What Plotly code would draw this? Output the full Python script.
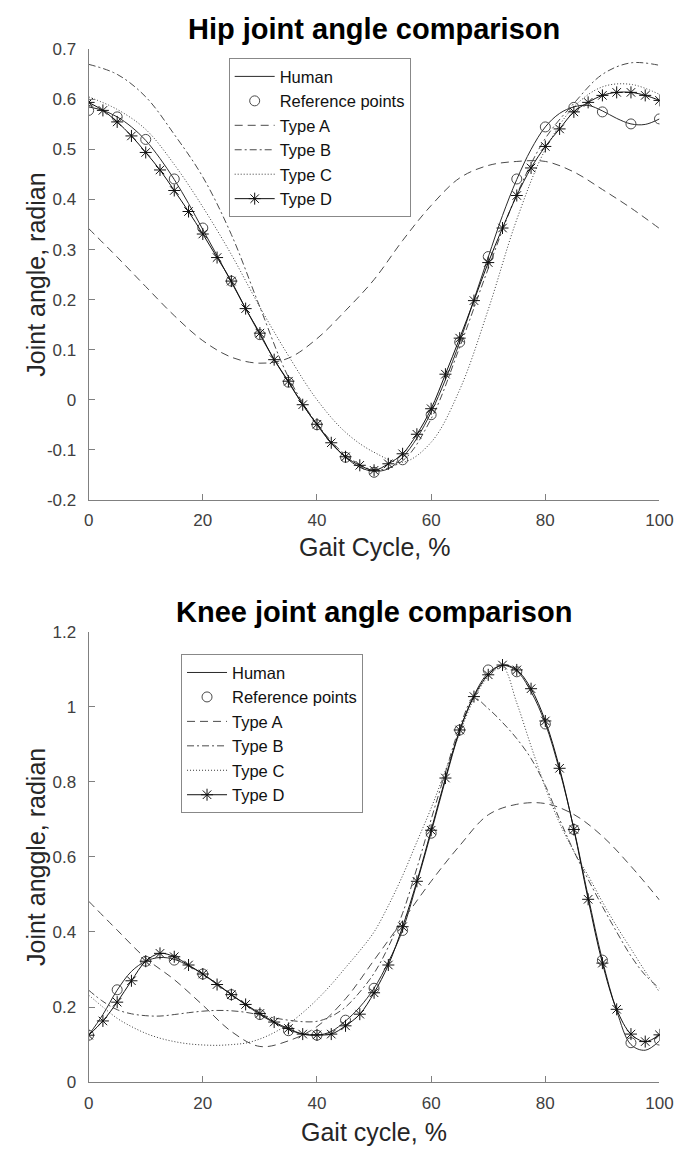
import plotly.graph_objects as go

# ---------------- data ----------------
x_fine = [0, 2.5, 5, 7.5, 10, 12.5, 15, 17.5, 20, 22.5, 25, 27.5, 30, 32.5, 35, 37.5,
          40, 42.5, 45, 47.5, 50, 52.5, 55, 57.5, 60, 62.5, 65, 67.5, 70, 72.5, 75,
          77.5, 80, 82.5, 85, 87.5, 90, 92.5, 95, 97.5, 100]
x_ref = [0, 5, 10, 15, 20, 25, 30, 35, 40, 45, 50, 55, 60, 65, 70, 75, 80, 85, 90, 95, 100]

# Hip
hip_human = [0.585, 0.578, 0.565, 0.545, 0.518, 0.482, 0.440, 0.392, 0.340, 0.288, 0.235,
             0.182, 0.130, 0.080, 0.035, -0.010, -0.050, -0.087, -0.115, -0.135, -0.143,
             -0.138, -0.115, -0.077, -0.025, 0.040, 0.115, 0.200, 0.285, 0.368, 0.440,
             0.500, 0.545, 0.572, 0.585, 0.588, 0.577, 0.562, 0.551, 0.550, 0.561]
hip_ref = [0.578, 0.565, 0.520, 0.441, 0.343, 0.237, 0.130, 0.035, -0.050, -0.115, -0.145,
           -0.120, -0.030, 0.115, 0.286, 0.441, 0.545, 0.584, 0.575, 0.551, 0.561]
hip_A = [0.342, 0.285, 0.226, 0.168, 0.118, 0.085, 0.073, 0.083, 0.122, 0.178, 0.240,
         0.318, 0.388, 0.443, 0.468, 0.476, 0.476, 0.455, 0.420, 0.383, 0.342]
hip_B = [0.670, 0.650, 0.605, 0.530, 0.445, 0.330, 0.185, 0.045, -0.048, -0.110, -0.140,
         -0.122, -0.038, 0.105, 0.262, 0.410, 0.522, 0.592, 0.650, 0.673, 0.668]
hip_C = [0.605, 0.580, 0.540, 0.470, 0.385, 0.290, 0.185, 0.088, 0.000, -0.065, -0.105,
         -0.125, -0.085, 0.020, 0.180, 0.360, 0.500, 0.585, 0.625, 0.630, 0.610]
hip_D = [0.594, 0.578, 0.555, 0.527, 0.494, 0.459, 0.418, 0.376, 0.331, 0.284, 0.237,
         0.182, 0.133, 0.080, 0.037, -0.010, -0.049, -0.086, -0.114, -0.131, -0.141,
         -0.128, -0.108, -0.069, -0.018, 0.051, 0.123, 0.198, 0.274, 0.343, 0.408,
         0.463, 0.506, 0.541, 0.575, 0.594, 0.608, 0.614, 0.614, 0.608, 0.598]

# Knee
knee_human = [0.125, 0.180, 0.245, 0.295, 0.322, 0.332, 0.327, 0.310, 0.288, 0.262, 0.233,
              0.206, 0.180, 0.158, 0.140, 0.128, 0.125, 0.135, 0.163, 0.200, 0.250, 0.320,
              0.405, 0.530, 0.665, 0.805, 0.935, 1.030, 1.090, 1.110, 1.095, 1.040, 0.955,
              0.830, 0.675, 0.495, 0.325, 0.190, 0.100, 0.085, 0.110]
knee_ref = [0.125, 0.246, 0.322, 0.325, 0.288, 0.233, 0.180, 0.137, 0.125, 0.165, 0.250,
            0.404, 0.663, 0.938, 1.098, 1.093, 0.954, 0.673, 0.325, 0.105, 0.112]
knee_A = [0.482, 0.405, 0.330, 0.273, 0.205, 0.135, 0.095, 0.110, 0.148, 0.222, 0.325,
          0.430, 0.535, 0.630, 0.712, 0.740, 0.742, 0.713, 0.655, 0.575, 0.485]
knee_B = [0.245, 0.215, 0.193, 0.182, 0.177, 0.176, 0.180, 0.185, 0.189, 0.191, 0.190,
          0.186, 0.179, 0.171, 0.165, 0.161, 0.162, 0.175, 0.200, 0.240, 0.290, 0.360,
          0.450, 0.570, 0.700, 0.825, 0.945, 1.022, 0.995, 0.958, 0.915, 0.862, 0.790,
          0.700, 0.615, 0.540, 0.468, 0.400, 0.336, 0.285, 0.250]
knee_C = [0.232, 0.200, 0.170, 0.148, 0.130, 0.117, 0.108, 0.102, 0.099, 0.098, 0.100,
          0.104, 0.115, 0.132, 0.155, 0.185, 0.220, 0.260, 0.305, 0.350, 0.400, 0.470,
          0.550, 0.640, 0.730, 0.830, 0.930, 1.020, 1.080, 1.105, 1.010, 0.895, 0.785,
          0.690, 0.615, 0.550, 0.480, 0.415, 0.355, 0.295, 0.240]
knee_D = [0.125, 0.163, 0.213, 0.270, 0.322, 0.343, 0.334, 0.312, 0.288, 0.260, 0.233,
          0.207, 0.183, 0.160, 0.143, 0.128, 0.126, 0.128, 0.150, 0.181, 0.238, 0.312,
          0.414, 0.535, 0.671, 0.810, 0.938, 1.027, 1.085, 1.111, 1.098, 1.048, 0.962,
          0.836, 0.673, 0.487, 0.317, 0.194, 0.128, 0.108, 0.126]

names = ["Human", "Reference points", "Type A", "Type B", "Type C", "Type D"]

x_ticks = [0, 20, 40, 60, 80, 100]
hip_yticks = [-0.2, -0.1, 0, 0.1, 0.2, 0.3, 0.4, 0.5, 0.6, 0.7]
hip_yticktext = ["-0.2", "-0.1", "0", "0.1", "0.2", "0.3", "0.4", "0.5", "0.6", "0.7"]
knee_yticks = [0, 0.2, 0.4, 0.6, 0.8, 1.0, 1.2]
knee_yticktext = ["0", "0.2", "0.4", "0.6", "0.8", "1", "1.2"]

# ---------------- figure ----------------
W, H = 691, 1160
FONT = "Liberation Sans, Arial, Helvetica, sans-serif"

fig = go.Figure()


def add_set(xa, ya, legend, human, ref, A, B, C, D):
    common = dict(xaxis=xa, yaxis=ya, legend=legend)
    fig.add_trace(go.Scatter(x=x_fine, y=human, mode="lines", name=names[0],
                             line=dict(color="#2a2a2a", width=1, shape="spline"), **common))
    fig.add_trace(go.Scatter(x=x_ref, y=ref, mode="markers", name=names[1],
                             marker=dict(symbol="circle-open", size=10, color="#4a4a4a",
                                         line=dict(width=1, color="#4a4a4a")), **common))
    fig.add_trace(go.Scatter(x=x_ref, y=A, mode="lines", name=names[2],
                             line=dict(color="#4a4a4a", width=1, dash="8px,5px", shape="spline"),
                             **common))
    fig.add_trace(go.Scatter(x=x_ref if len(B) == 21 else x_fine, y=B, mode="lines", name=names[3],
                             line=dict(color="#4a4a4a", width=1, dash="7px,3px,2px,3px",
                                       shape="spline"), **common))
    fig.add_trace(go.Scatter(x=x_ref if len(C) == 21 else x_fine, y=C, mode="lines", name=names[4],
                             line=dict(color="#3a3a3a", width=1, dash="1px,2px", shape="spline"),
                             **common))
    fig.add_trace(go.Scatter(x=x_fine, y=D, mode="lines+markers", name=names[5],
                             line=dict(color="#111111", width=1, shape="spline"),
                             marker=dict(symbol="asterisk-open", size=10, color="#111111",
                                         line=dict(width=1, color="#111111")), **common))


add_set("x", "y", "legend", hip_human, hip_ref, hip_A, hip_B, hip_C, hip_D)
add_set("x2", "y2", "legend2", knee_human, knee_ref, knee_A, knee_B, knee_C, knee_D)

X0, X1 = 86, 673
TOP = (41, 499)
BOT = (633, 1091)

axis_common = dict(showgrid=False, zeroline=False, showline=True, linecolor="#808080",
                   linewidth=1, ticks="inside", ticklen=6, tickcolor="#808080",
                   tickfont=dict(family=FONT, size=17, color="#404040"), mirror=False)

legend_common = dict(xanchor="left", yanchor="top", bgcolor="white", bordercolor="#888888",
                     borderwidth=1, font=dict(family=FONT, size=16.5, color="#111111"),
                     tracegroupgap=0, itemwidth=40)

fig.update_layout(
    width=W, height=H, margin=dict(l=0, r=0, t=0, b=0),
    paper_bgcolor="white", plot_bgcolor="white",
    xaxis=dict(domain=[X0 / W, X1 / W], range=[0, 100], tickvals=x_ticks,
               anchor="y", ticklabelstandoff=5, **axis_common),
    yaxis=dict(domain=[1 - TOP[1] / H, 1 - TOP[0] / H], range=[-0.2, 0.7],
               tickvals=hip_yticks, ticktext=hip_yticktext, anchor="x",
               ticklabelstandoff=8, **axis_common),
    xaxis2=dict(domain=[X0 / W, X1 / W], range=[0, 100], tickvals=x_ticks,
                anchor="y2", ticklabelstandoff=5, **axis_common),
    yaxis2=dict(domain=[1 - BOT[1] / H, 1 - BOT[0] / H], range=[0, 1.2],
                tickvals=knee_yticks, ticktext=knee_yticktext, anchor="x2",
                ticklabelstandoff=8, **axis_common),
    legend=dict(x=230 / W, y=1 - 50 / H, **legend_common),
    legend2=dict(x=181 / W, y=1 - 656 / H, **legend_common),
    showlegend=True,
)

ann = []
cx = (X0 + X1) / 2 / W
ann.append(dict(text="<b>Hip joint angle comparison</b>", x=cx, y=1 - 20 / H,
                font=dict(family=FONT, size=29, color="black")))
ann.append(dict(text="<b>Knee joint angle comparison</b>", x=cx, y=1 - 613 / H,
                font=dict(family=FONT, size=29, color="black")))
ann.append(dict(text="Gait Cycle, %", x=cx, y=1 - 547 / H,
                font=dict(family=FONT, size=25, color="#262626")))
ann.append(dict(text="Gait cycle, %", x=cx, y=1 - 1142 / H,
                font=dict(family=FONT, size=25, color="#262626")))
ann.append(dict(text="Joint angle, radian", x=31 / W, y=1 - 270 / H, textangle=-90,
                font=dict(family=FONT, size=25, color="#262626")))
ann.append(dict(text="Joint anggle, radian", x=32 / W, y=1 - 862 / H, textangle=-90,
                font=dict(family=FONT, size=25, color="#262626")))
for a in ann:
    a.update(xref="paper", yref="paper", xanchor="center", yanchor="middle", showarrow=False)
fig.update_layout(annotations=ann)

fig.write_html("out.html")
